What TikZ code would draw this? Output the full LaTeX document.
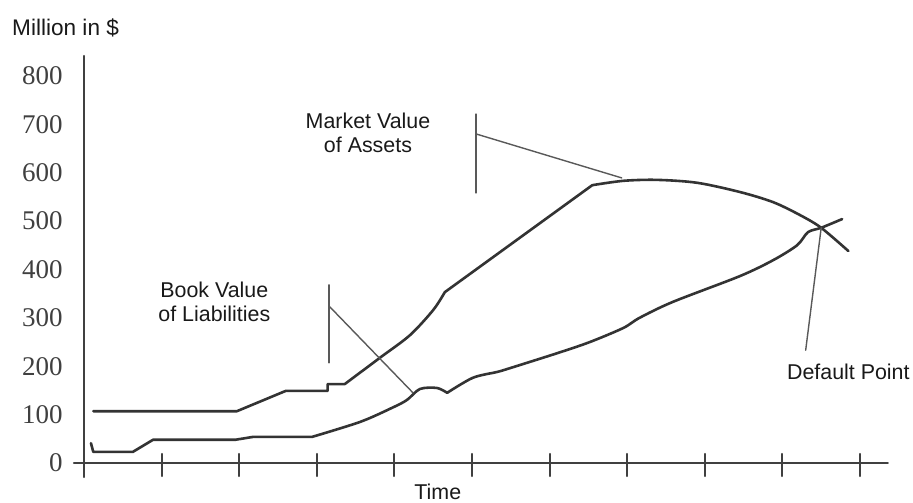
\documentclass[tikz,border=0pt]{standalone}
\usepackage{fontspec}
\setmainfont{Liberation Sans}
\newfontfamily\numfont{Liberation Serif}

\begin{document}
\begin{tikzpicture}[x=38.8pt, y=24.2pt, line join=round, line cap=round]
\tikzset{
  curve/.style={line width=1.3pt, color=black!80},
  leader/.style={line width=0.7pt, color=black!65},
  axis/.style={line width=1pt, color=black!75},
  lbl/.style={font=\fontsize{10.7}{12}\selectfont, align=center, text=black!90, inner sep=0pt},
  ylbl/.style={font=\numfont\fontsize{13.5}{14}\selectfont, text=black!75, anchor=east, inner sep=0pt}
}
\useasboundingbox (-1.082,-0.826) rectangle (10.683,9.566);

% Axes
\draw[axis] (-0.13,0) -- (10.36,0);
\draw[axis] (0,-0.29) -- (0,8.41);
\foreach \i in {1,...,10} \draw[axis] (\i,0.19) -- (\i,-0.27);
\foreach \v/\t in {0/0,1/100,2/200,3/300,4/400,5/500,6/600,7/700,8/800}
  \node[ylbl] (y\v) at (-0.27,\v) {\t};
\node[lbl, font=\fontsize{11.3}{13}\selectfont, anchor=base west] (million) at (-0.93,8.84) {Million in \$};
\node[lbl] (time) at (4.56,-0.6) {Time};

% Market value of assets
\draw[curve] (0.12,1.07) -- (1.97,1.07) -- (2.60,1.49) -- (3.14,1.49) -- (3.14,1.63) -- (3.36,1.63)
  -- plot[smooth] coordinates {(3.36,1.63) (3.81,2.17) (4.20,2.64) (4.50,3.16) (4.65,3.53)}
  -- (6.55,5.74)
  -- plot[smooth] coordinates {(6.55,5.74) (6.95,5.83) (7.38,5.85) (7.90,5.79) (8.45,5.60) (8.88,5.39) (9.23,5.12) (9.50,4.86) (9.85,4.38)};

% Book value of liabilities
\draw[curve] (0.09,0.41) -- (0.12,0.23) -- (0.63,0.23) -- (0.89,0.48) -- (1.95,0.48) -- (2.18,0.54) -- (2.94,0.54)
  -- plot[smooth] coordinates {(2.94,0.54) (3.56,0.85) (3.97,1.14) (4.16,1.30) (4.33,1.53) (4.55,1.55) (4.68,1.45)}
  -- plot[smooth] coordinates {(4.68,1.45) (5.01,1.76) (5.32,1.88) (5.45,1.94) (6.10,2.27) (6.52,2.50) (6.95,2.79) (7.16,3.00) (7.59,3.33) (8.45,3.86) (8.88,4.19) (9.19,4.50) (9.33,4.77) (9.50,4.86) (9.77,5.04)};

% Labels
\node[lbl] (assets) at (3.66,6.83) {Market Value\\of Assets};
\node[lbl] (liab) at (1.68,3.32) {Book Value\\of Liabilities};
\node[lbl] (default) at (9.85,1.88) {Default Point};

% Leader lines
\coordinate (assetsTop) at (5.05,7.21);
\coordinate (assetsBot) at (5.05,5.58);
\coordinate (assetsKnee) at (5.05,6.80);
\coordinate (assetsTip) at (6.93,5.89);
\coordinate (liabTop) at (3.16,3.68);
\coordinate (liabBot) at (3.16,2.07);
\coordinate (liabKnee) at (3.16,3.24);
\coordinate (liabTip) at (4.24,1.45);
\coordinate (defaultTip) at (9.50,4.86);
\coordinate (defaultEnd) at (9.30,2.33);
\draw[leader] (assetsTop) -- (assetsBot);
\draw[leader] (assetsKnee) -- (assetsTip);
\draw[leader] (liabTop) -- (liabBot);
\draw[leader] (liabKnee) -- (liabTip);
\draw[leader] (defaultTip) -- (defaultEnd);

\end{tikzpicture}
\end{document}
